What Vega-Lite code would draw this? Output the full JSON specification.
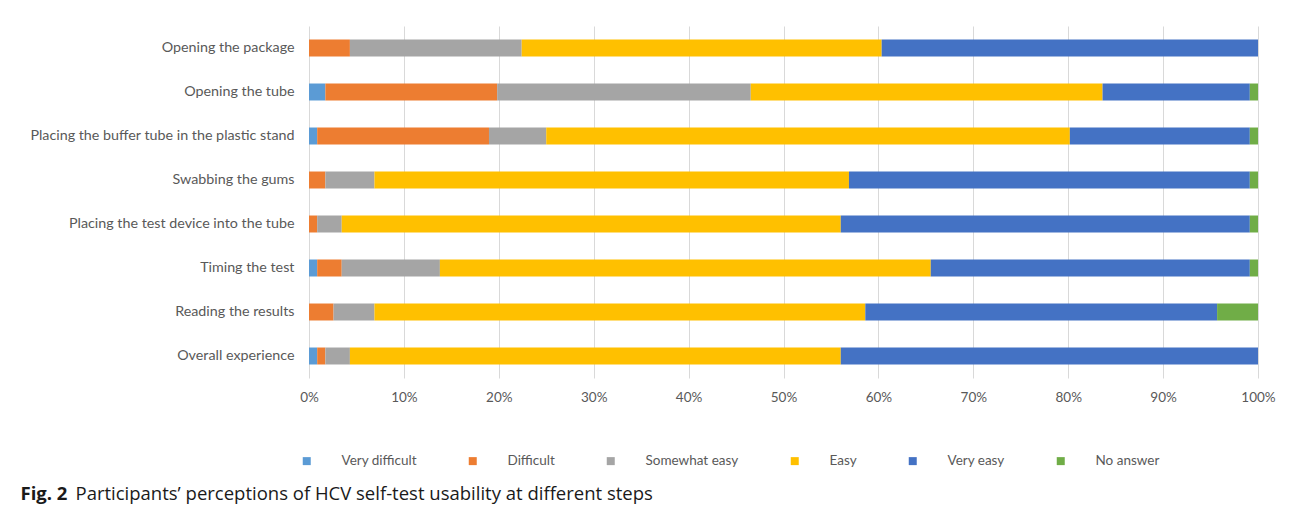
{
  "$schema": "https://vega.github.io/schema/vega-lite/v6.json",
  "width": 949,
  "height": 352,
  "autosize": "none",
  "padding": {"left": 309, "top": 26, "right": 34, "bottom": 131},
  "background": "white",
  "config": {"view": {"stroke": null}, "font": "Lato"},
  "data": {"values": [
    {"step": "Opening the package", "response": "Very difficult", "k": 1, "n": 0},
    {"step": "Opening the package", "response": "Difficult", "k": 2, "n": 5},
    {"step": "Opening the package", "response": "Somewhat easy", "k": 3, "n": 21},
    {"step": "Opening the package", "response": "Easy", "k": 4, "n": 44},
    {"step": "Opening the package", "response": "Very easy", "k": 5, "n": 46},
    {"step": "Opening the package", "response": "No answer", "k": 6, "n": 0},
    {"step": "Opening the tube", "response": "Very difficult", "k": 1, "n": 2},
    {"step": "Opening the tube", "response": "Difficult", "k": 2, "n": 21},
    {"step": "Opening the tube", "response": "Somewhat easy", "k": 3, "n": 31},
    {"step": "Opening the tube", "response": "Easy", "k": 4, "n": 43},
    {"step": "Opening the tube", "response": "Very easy", "k": 5, "n": 18},
    {"step": "Opening the tube", "response": "No answer", "k": 6, "n": 1},
    {"step": "Placing the buffer tube in the plastic stand", "response": "Very difficult", "k": 1, "n": 1},
    {"step": "Placing the buffer tube in the plastic stand", "response": "Difficult", "k": 2, "n": 21},
    {"step": "Placing the buffer tube in the plastic stand", "response": "Somewhat easy", "k": 3, "n": 7},
    {"step": "Placing the buffer tube in the plastic stand", "response": "Easy", "k": 4, "n": 64},
    {"step": "Placing the buffer tube in the plastic stand", "response": "Very easy", "k": 5, "n": 22},
    {"step": "Placing the buffer tube in the plastic stand", "response": "No answer", "k": 6, "n": 1},
    {"step": "Swabbing the gums", "response": "Very difficult", "k": 1, "n": 0},
    {"step": "Swabbing the gums", "response": "Difficult", "k": 2, "n": 2},
    {"step": "Swabbing the gums", "response": "Somewhat easy", "k": 3, "n": 6},
    {"step": "Swabbing the gums", "response": "Easy", "k": 4, "n": 58},
    {"step": "Swabbing the gums", "response": "Very easy", "k": 5, "n": 49},
    {"step": "Swabbing the gums", "response": "No answer", "k": 6, "n": 1},
    {"step": "Placing the test device into the tube", "response": "Very difficult", "k": 1, "n": 0},
    {"step": "Placing the test device into the tube", "response": "Difficult", "k": 2, "n": 1},
    {"step": "Placing the test device into the tube", "response": "Somewhat easy", "k": 3, "n": 3},
    {"step": "Placing the test device into the tube", "response": "Easy", "k": 4, "n": 61},
    {"step": "Placing the test device into the tube", "response": "Very easy", "k": 5, "n": 50},
    {"step": "Placing the test device into the tube", "response": "No answer", "k": 6, "n": 1},
    {"step": "Timing the test", "response": "Very difficult", "k": 1, "n": 1},
    {"step": "Timing the test", "response": "Difficult", "k": 2, "n": 3},
    {"step": "Timing the test", "response": "Somewhat easy", "k": 3, "n": 12},
    {"step": "Timing the test", "response": "Easy", "k": 4, "n": 60},
    {"step": "Timing the test", "response": "Very easy", "k": 5, "n": 39},
    {"step": "Timing the test", "response": "No answer", "k": 6, "n": 1},
    {"step": "Reading the results", "response": "Very difficult", "k": 1, "n": 0},
    {"step": "Reading the results", "response": "Difficult", "k": 2, "n": 3},
    {"step": "Reading the results", "response": "Somewhat easy", "k": 3, "n": 5},
    {"step": "Reading the results", "response": "Easy", "k": 4, "n": 60},
    {"step": "Reading the results", "response": "Very easy", "k": 5, "n": 43},
    {"step": "Reading the results", "response": "No answer", "k": 6, "n": 5},
    {"step": "Overall experience", "response": "Very difficult", "k": 1, "n": 1},
    {"step": "Overall experience", "response": "Difficult", "k": 2, "n": 1},
    {"step": "Overall experience", "response": "Somewhat easy", "k": 3, "n": 3},
    {"step": "Overall experience", "response": "Easy", "k": 4, "n": 60},
    {"step": "Overall experience", "response": "Very easy", "k": 5, "n": 51},
    {"step": "Overall experience", "response": "No answer", "k": 6, "n": 0}
  ]},
  "mark": {"type": "bar"},
  "encoding": {
    "y": {
      "field": "step",
      "type": "nominal",
      "sort": ["Opening the package", "Opening the tube", "Placing the buffer tube in the plastic stand", "Swabbing the gums", "Placing the test device into the tube", "Timing the test", "Reading the results", "Overall experience"],
      "scale": {"paddingInner": 0.614, "paddingOuter": 0.307},
      "axis": {
        "title": "Fig. 2",
        "titleAngle": 0,
        "titleAlign": "left",
        "titleBaseline": "alphabetic",
        "titleX": -289,
        "titleY": 473,
        "titleFont": "Open Sans",
        "titleFontSize": 18.5,
        "titleFontWeight": "bold",
        "titleColor": "#1a1a1a",
        "domain": false,
        "ticks": false,
        "labelPadding": 15,
        "labelFont": "Lato",
        "labelFontSize": 14.3,
        "labelColor": "#595959",
        "labelLimit": 400
      }
    },
    "x": {
      "field": "n",
      "type": "quantitative",
      "stack": "normalize",
      "scale": {"domain": [0, 1], "nice": false},
      "axis": {
        "title": "Participants’ perceptions of HCV self-test usability at different steps",
        "titleAlign": "left",
        "titleAnchor": null,
        "titleBaseline": "alphabetic",
        "titleX": -234,
        "titleY": 121,
        "titleFont": "Open Sans",
        "titleFontSize": 18.5,
        "titleFontWeight": "normal",
        "titleColor": "#1a1a1a",
        "values": [0, 0.1, 0.2, 0.3, 0.4, 0.5, 0.6, 0.7, 0.8, 0.9, 1],
        "format": ".0%",
        "labelFlush": false,
        "labelOverlap": false,
        "domain": false,
        "ticks": false,
        "grid": true,
        "gridColor": "#d9d9d9",
        "gridWidth": 1,
        "labelPadding": 12,
        "labelFont": "Lato",
        "labelFontSize": 13.5,
        "labelColor": "#595959"
      }
    },
    "color": {
      "field": "response",
      "type": "nominal",
      "scale": {
        "domain": ["Very difficult", "Difficult", "Somewhat easy", "Easy", "Very easy", "No answer"],
        "range": ["#5B9BD5", "#ED7D31", "#A5A5A5", "#FFC000", "#4472C4", "#70AD47"]
      },
      "legend": {
        "title": null,
        "orient": "none",
        "legendX": -9,
        "legendY": 428,
        "direction": "horizontal",
        "columns": 6,
        "columnPadding": 49,
        "symbolType": "square",
        "symbolSize": 64,
        "symbolStrokeWidth": 0,
        "labelOffset": 28,
        "labelFont": "Lato",
        "labelFontSize": 13.5,
        "labelColor": "#595959",
        "padding": 0
      }
    },
    "order": {"field": "k", "type": "quantitative"}
  }
}
